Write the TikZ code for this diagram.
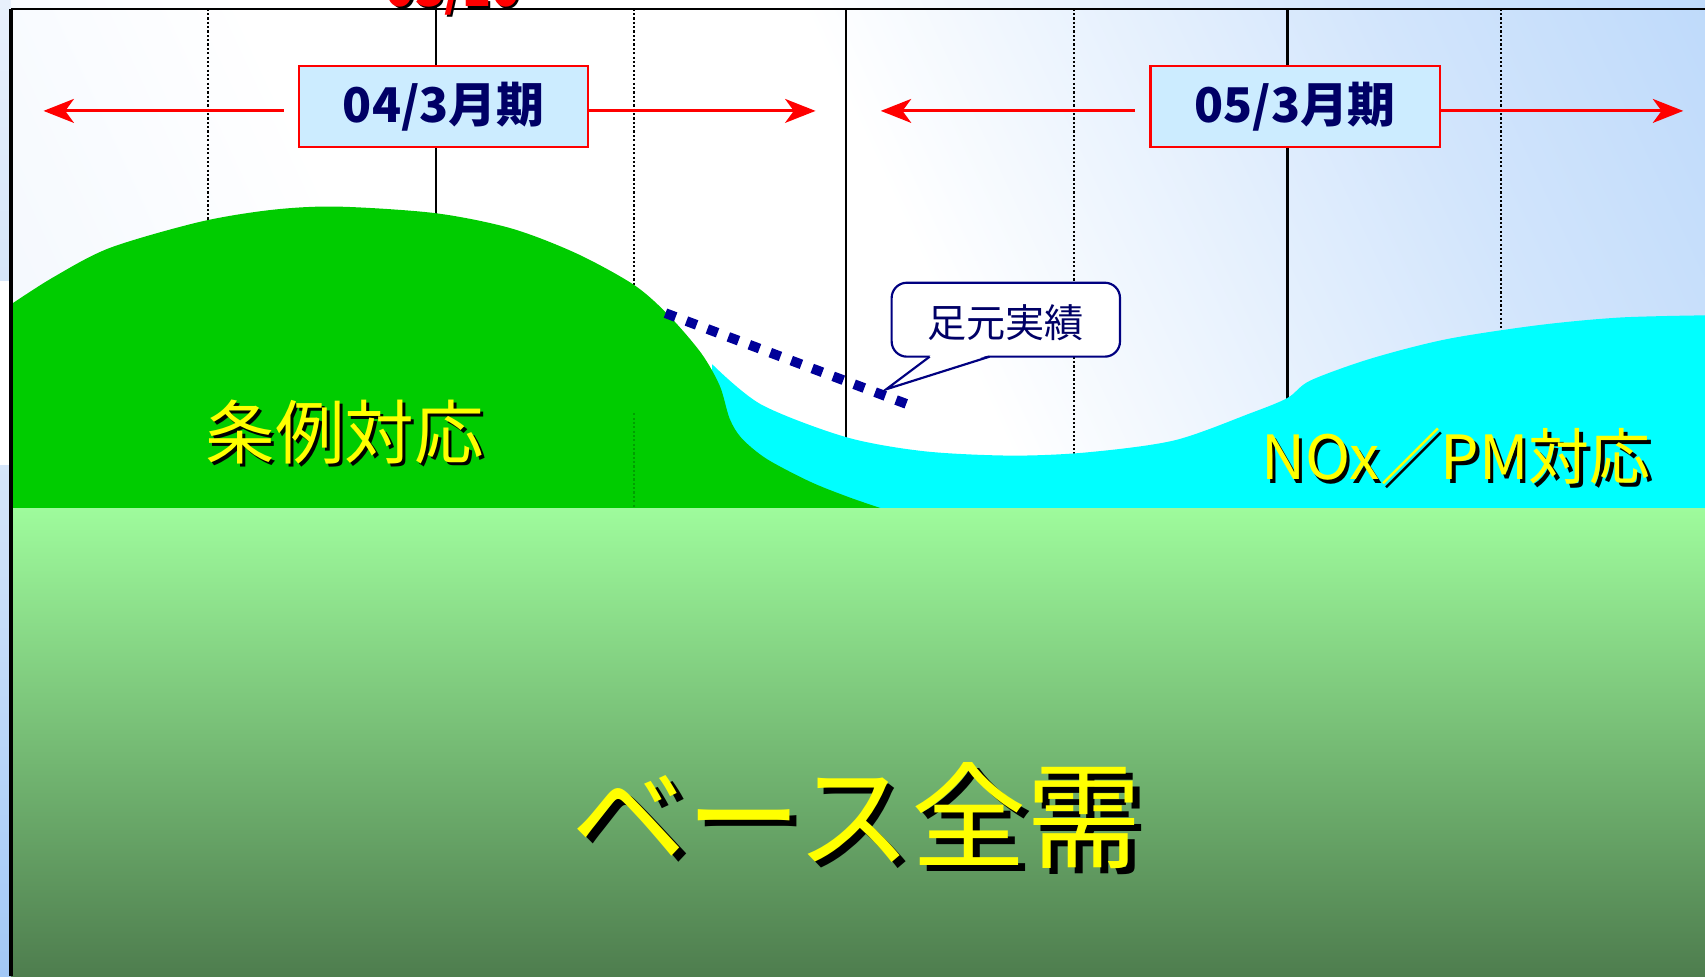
\documentclass[tikz,border=0pt]{standalone}
\usepackage{fontspec}
\newfontfamily\jp{Noto Sans CJK JP}
\usetikzlibrary{arrows.meta}
\definecolor{skyA}{HTML}{E4EEFD}
\definecolor{skyB}{HTML}{FFFFFF}
\definecolor{skyC}{HTML}{D2E5FC}
\definecolor{skyD}{HTML}{A2CAF8}
\definecolor{hillgreen}{HTML}{00CC00}
\definecolor{noxcyan}{HTML}{00FFFF}
\definecolor{groundT}{HTML}{9EFB9C}
\definecolor{groundB}{HTML}{4E7D4E}
\definecolor{boxfill}{HTML}{CCECFF}
\definecolor{navytext}{HTML}{000066}
\definecolor{calloutline}{HTML}{000080}
\definecolor{dotblue}{HTML}{000099}
\definecolor{stripTop}{HTML}{E8F0FC}
\definecolor{stripMid}{HTML}{D6E6FA}
\definecolor{stripBot}{HTML}{A2C8F6}
\definecolor{txtyellow}{HTML}{FFFF00}
\pgfdeclarehorizontalshading{skyshade}{100bp}{color(0bp)=(skyA); color(33bp)=(skyB); color(52bp)=(skyB); color(72bp)=(skyC); color(100bp)=(skyD)}
\newcommand{\myBoxFont}{\jp\bfseries\fontsize{22}{26}\selectfont}
\newcommand{\myCallFont}{\jp\fontsize{18}{22}\selectfont}
\newcommand{\myMidFont}{\jp\fontsize{32}{36}\selectfont}
\newcommand{\myNoxFont}{\jp\fontsize{28}{32}\selectfont}
\newcommand{\myHugeFont}{\jp\fontsize{53}{60}\selectfont}
\tikzset{
  solidv/.style={line width=1pt, black},
  dottedv/.style={line width=1pt, black, dash pattern=on 1pt off 1pt},
  periodbox/.style={draw=red, line width=1pt, fill=boxfill, minimum width=133pt, minimum height=37pt, inner sep=0pt, text=navytext, font=\myBoxFont},
  redarrow/.style={draw=red, line width=1.3pt, -{Stealth[length=14pt, width=11pt, inset=4pt]}},
  callout/.style={draw=calloutline, line width=1pt, fill=white},
  yellowtxt/.style={text=txtyellow, inner sep=0pt},
  shadowtxt/.style={text=black, inner sep=0pt},
  dotlink/.style={draw=dotblue, line width=4.5pt, dash pattern=on 5pt off 5.3pt}
}
\begin{document}
\begin{tikzpicture}[x=0.5pt, y=-0.5pt]
\useasboundingbox (0,0) rectangle (1568,898);
% left strip
\shade[top color=stripTop, bottom color=stripMid] (0,0) rectangle (10,258);
\fill[white] (0,258) rectangle (10,428);
\shade[top color=stripMid, bottom color=stripBot] (0,428) rectangle (10,898);
% sky
\shade[shading=skyshade, shading angle=25] (10,0) rectangle (1568,468);
% vertical grid lines
\draw[dottedv] (191,8) -- (191,468);
\draw[solidv] (401,0) -- (401,468);
\draw[dottedv] (583,8) -- (583,468);
\draw[solidv] (778,8) -- (778,468);
\draw[dottedv] (988,8) -- (988,468);
\draw[solidv] (1184,8) -- (1184,468);
\draw[dottedv] (1380,8) -- (1380,468);
% cyan area
\fill[noxcyan] plot[smooth, tension=0.5] coordinates {(655,335) (700,372) (778,402) (850,415) (930,419) (1000,416) (1080,405) (1150,380) (1184,366) (1205,350) (1260,330) (1330,312) (1415,299) (1490,292) (1568,290)} -- (1568,468) -- (655,468) -- cycle;
% green hill
\fill[hillgreen] plot[smooth, tension=0.5] coordinates {(10,280) (49,255) (101,228) (184,204) (250,193) (310,190) (400,196) (470,210) (530,233) (583,262) (615,290) (645,325) (662,355) (671,385) (682,403) (705,422) (745,443) (780,457) (812,468)} -- (10,468) -- cycle;
\draw[line width=0.6pt, green!45!black, dash pattern=on 1pt off 1pt, opacity=0.5] (583,380) -- (583,468);
% ground
\shade[top color=groundT, bottom color=groundB] (10,468) rectangle (1568,898);
% frame
\draw[line width=0.9pt, black] (10,8) -- (1568,8);
\draw[line width=1.5pt, black] (10,8) -- (10,898);
% top red label (cut off by the top edge, as in the reference)
\node[text=black, inner sep=0pt, anchor=base, font=\jp\bfseries\fontsize{22}{26}\selectfont] (dateS) at (419,8) {03/10};
\node[text=red, inner sep=0pt, anchor=base, font=\jp\bfseries\fontsize{22}{26}\selectfont] (date) at (417,6) {03/10};
% period boxes
\node[periodbox] (b1) at (408,98) {04/3月期};
\node[periodbox] (b2) at (1191,98) {05/3月期};
\coordinate (a1) at (40,102);
\coordinate (a2) at (750,102);
\coordinate (a3) at (810,102);
\coordinate (a4) at (1548,102);
\draw[redarrow] ([xshift=-6.5pt, yshift=-2pt]b1.west) -- (a1);
\draw[redarrow] ([yshift=-2pt]b1.east) -- (a2);
\draw[redarrow] ([xshift=-6.5pt, yshift=-2pt]b2.west) -- (a3);
\draw[redarrow] ([yshift=-2pt]b2.east) -- (a4);
% dotted actual line
\coordinate (d1) at (612,288);
\coordinate (d2) at (835,372);
\draw[dotlink] (d1) -- (d2);
% callout
\filldraw[callout, rounded corners=7pt] (820,260) rectangle (1030,328);
\fill[white] (856,326.6) -- (815,358) -- (909,326.6) -- cycle;
\draw[draw=calloutline, line width=1pt, line join=miter] (855,328) -- (815,358) -- (910,328);
\node[text=navytext, inner sep=0pt, font=\myCallFont] (call) at (925,297) {足元実績};
% yellow labels with shadows
\node[shadowtxt, font=\myMidFont] (jS) at (320,400) {条例対応};
\node[yellowtxt, font=\myMidFont] (j) at (317,397) {条例対応};
\node[shadowtxt, font=\myNoxFont] (nS) at (1342,423) {NOx／PM対応};
\node[yellowtxt, font=\myNoxFont] (n) at (1339,420) {NOx／PM対応};
\node[shadowtxt, font=\myHugeFont] (bS) at (794,756) {ベース全需};
\node[yellowtxt, font=\myHugeFont] (bz) at (788,750) {ベース全需};
\end{tikzpicture}
\end{document}
